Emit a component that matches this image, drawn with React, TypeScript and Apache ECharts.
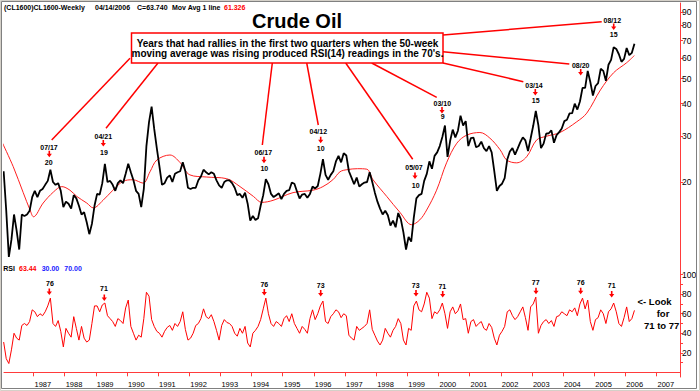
import React, { useEffect, useRef } from "react";
import * as echarts from "echarts";

// ---------- DATA ----------
const START_YEAR = 1986; // first monthly point: Jan 1986, last: Apr 2006

// Weekly crude oil (CL), one value per month
const prices = [
  // 1986
  22.0, 15.5, 10.3, 12.0, 15.0, 13.0, 11.0, 15.0, 14.8, 15.0, 15.5, 17.5,
  // 1987
  18.5, 17.5, 18.5, 18.8, 19.5, 20.2, 22.3, 20.0, 19.5, 19.8, 18.5, 16.0,
  // 1988
  16.8, 16.5, 15.8, 17.8, 17.3, 16.2, 15.0, 15.3, 14.0, 12.6, 13.8, 16.2,
  // 1989
  18.0, 17.9, 19.8, 23.5, 20.0, 20.2, 19.5, 18.5, 19.8, 20.3, 19.8, 21.5,
  // 1990
  23.5, 21.8, 20.3, 18.5, 18.0, 16.0, 18.8, 27.5, 34.0, 39.0, 32.0, 27.0,
  // 1991
  23.0, 19.5, 19.8, 20.8, 21.2, 20.0, 21.5, 21.8, 22.0, 23.8, 22.0, 19.0,
  // 1992
  18.8, 19.0, 19.0, 20.3, 21.0, 22.3, 21.8, 21.4, 21.8, 21.5, 20.3, 19.4,
  // 1993
  19.0, 20.0, 20.3, 20.3, 19.8, 19.0, 17.8, 18.0, 17.4, 18.2, 16.5, 14.2,
  // 1994
  14.8, 14.3, 14.5, 16.2, 17.8, 20.5, 19.6, 18.0, 17.5, 17.8, 18.1, 17.2,
  // 1995
  18.0, 18.5, 18.6, 19.9, 19.7, 18.4, 17.3, 17.9, 18.0, 17.4, 18.0, 19.2,
  // 1996
  18.9, 19.3, 21.5, 24.5, 21.3, 20.4, 21.3, 22.0, 24.0, 25.2, 23.8, 25.8,
  // 1997
  25.3, 22.0, 20.8, 19.6, 20.8, 19.2, 19.6, 19.9, 20.0, 21.8, 20.0, 18.2,
  // 1998
  16.8, 15.8, 15.0, 15.5, 14.9, 13.6, 14.2, 13.4, 15.2, 14.4, 12.8, 11.0,
  // 1999
  12.3, 11.8, 14.6, 17.3, 17.8, 18.0, 20.2, 21.5, 24.0, 22.5, 25.2, 26.0,
  // 2000
  27.5, 29.8, 33.0, 25.0, 28.8, 31.8, 29.7, 31.5, 36.0, 33.0, 34.3, 27.5,
  // 2001
  29.5, 29.6, 27.2, 27.5, 28.6, 27.0, 26.3, 27.5, 26.0, 22.0, 18.5, 19.3,
  // 2002
  19.7, 20.7, 24.4, 26.2, 27.0, 25.5, 26.9, 28.4, 29.7, 28.9, 26.3, 29.4,
  // 2003
  32.9, 37.5, 33.0, 27.0, 28.1, 30.7, 30.8, 31.6, 28.3, 30.3, 31.1, 32.1,
  // 2004
  34.3, 34.7, 36.7, 36.8, 40.0, 38.0, 40.8, 46.0, 46.0, 53.5, 48.5, 43.0,
  // 2005
  46.8, 48.0, 54.5, 53.5, 49.0, 56.5, 59.0, 66.0, 65.0, 62.0, 58.0, 59.5,
  // 2006
  65.5, 61.5, 62.8, 68.0,
];

// RSI(14), one value per month
const rsi = [
  31, 14, 9, 23, 40, 35, 33, 48, 50, 48, 52, 64,
  62, 57, 60, 58, 62, 68, 76, 50, 47, 53, 42, 26,
  45, 40, 36, 57, 45, 33, 47, 35, 31, 33, 50, 68,
  68, 62, 69, 71, 58, 55, 52, 47, 55, 53, 50, 66,
  74, 47, 40, 33, 38, 36, 55, 82, 78, 54, 47, 42,
  40, 36, 42, 46, 48, 43, 50, 47, 52, 62, 44, 33,
  35, 40, 48, 50, 55, 65, 57, 55, 59, 52, 43, 33,
  48, 54, 51, 50, 47, 40, 37, 45, 40, 47, 30, 26,
  40, 43, 47, 54, 65, 76, 60, 50, 47, 52, 50, 47,
  55, 58, 52, 60, 50, 45, 40, 47, 44, 40, 55, 64,
  54, 60, 68, 73, 52, 50, 57, 60, 64, 62, 56, 60,
  58, 38, 35, 33, 47, 43, 45, 47, 50, 64, 44, 38,
  32, 28, 33, 45, 40, 36, 43, 47, 55, 50, 33, 28,
  45, 43, 68, 73, 64, 62, 70, 82, 76, 55, 62, 60,
  64, 71, 60, 45, 62, 67, 60, 63, 70, 54, 55, 40,
  52, 54, 47, 50, 52, 45, 43, 50, 46, 35, 28, 38,
  42, 47, 62, 64, 58, 54, 57, 62, 67, 56, 43, 67,
  70, 77, 40, 48, 52, 54, 50, 53, 47, 57, 58, 62,
  60, 58, 64, 62, 66, 58, 70, 76, 65, 74, 52, 43,
  54, 56, 64, 60, 50, 62, 65, 71, 62, 50, 47, 56,
  67, 52, 55, 63.44,
];

// 50-week moving average, read at these dates (decimal years)
const maDates = [
  1986.0, 1986.35, 1986.67, 1986.89, 1987.0, 1987.31, 1987.64, 1987.91, 1988.17, 1988.39,
  1988.71, 1988.92, 1989.23, 1989.55, 1989.87, 1990.19, 1990.52, 1990.74, 1990.96, 1991.38,
  1991.7, 1992.02, 1992.56, 1993.2, 1993.63, 1994.06, 1994.33, 1994.69, 1995.33, 1995.97,
  1996.29, 1996.61, 1996.84, 1997.06, 1997.4, 1997.7, 1997.9, 1998.34, 1998.76, 1999.14,
  1999.4, 1999.62, 1999.94, 2000.26, 2000.59, 2000.91, 2001.33, 2001.65, 2001.98, 2002.19,
  2002.51, 2002.83, 2003.15, 2003.47, 2003.9, 2004.44, 2004.76, 2005.2, 2005.62, 2006.04,
  2006.29,
];
const maValues = [
  28.3, 22.9, 18.2, 15.6, 14.7, 16.6, 18.3, 19.2, 18.6, 17.6,
  16.6, 15.9, 17.0, 18.6, 20.1, 20.4, 19.8, 21.9, 24.3, 25.4,
  23.8, 21.3, 20.9, 20.6, 19.2, 17.6, 16.7, 17.0, 18.2, 18.6,
  19.2, 20.4, 21.9, 22.3, 22.5, 22.4, 20.4, 17.6, 15.3, 13.7,
  14.3, 15.6, 18.6, 23.7, 28.2, 30.3, 31.0, 29.5, 26.6, 24.3,
  23.7, 25.0, 29.0, 30.0, 31.0, 34.1, 36.8, 45.2, 52.6, 57.5,
  61.3,
];

const priceTicks = [20, 30, 40, 50, 60, 70, 80, 90];
const rsiTickLabels = [20, 40, 60, 80, 100];
const rsiTicks = [10, 20, 30, 40, 50, 60, 70, 80, 90, 100];
const rsiBands = [30, 70];
const yearTicks = [
  1987, 1988, 1989, 1990, 1991, 1992, 1993, 1994, 1995, 1996, 1997,
  1998, 1999, 2000, 2001, 2002, 2003, 2004, 2005, 2006, 2007,
];

const priceNoteDates = ["07/17", "04/21", "06/17", "04/12", "05/07", "03/10", "03/14", "08/20", "08/12"];
const priceNoteNums = ["20", "19", "10", "10", "10", "9", "15", "", "15"];
const rsiNoteValues = ["76", "71", "76", "73", "73", "71", "77", "76", "71"];

const headerParts = ["(CL1600)CL1600-Weekly", "04/14/2006", "C=63.740", "Mov Avg 1 line", "61.326"];
const rsiHeaderParts = ["RSI", "63.44", "30.00", "70.00"];
const titleText = "Crude Oil";
const noteLines = [
  "Years that had rallies in the first two quarters when the 50-week",
  "moving average was rising produced RSI(14) readings in the 70's.",
];
const lookLines = ["<- Look", "for", "71 to 77"];

// ---------- LAYOUT ----------
const FONT = "Liberation Sans, Arial, sans-serif";
const RED = "#ff0000";
const AXIS_RED = "#ff3b3b";
const X_MIN = 1986.053;
const X_MAX = 2007.754;
const LOG_MIN = 0.99334;
const LOG_MAX = 1.98949;

const priceNoteLayout = [
  { lx: 49, ly: 147.3, ax: 49.3, ay: 154, nx: 48.7, ny: 162.3, line: [130, 58.3, 51.7, 140] },
  { lx: 103.3, ly: 136, ax: 103.3, ay: 143.3, nx: 104, ny: 152.7, line: [158, 63, 106, 128.3] },
  { lx: 263.3, ly: 152.3, ax: 264, ay: 160, nx: 264.3, ny: 168.3, line: [272.3, 63, 262.3, 145] },
  { lx: 318.3, ly: 131.7, ax: 320.7, ay: 140, nx: 320.7, ny: 148.3, line: [306.7, 63, 318.3, 125] },
  { lx: 414, ly: 167.3, ax: 415, ay: 175.7, nx: 415.7, ny: 185.7, line: [345.7, 63, 412.7, 159.3] },
  { lx: 442.3, ly: 103.7, ax: 442, ay: 110.3, nx: 442.7, ny: 116.7, line: [371.7, 63, 436.7, 97.3] },
  { lx: 534, ly: 85.7, ax: 535.3, ay: 92.3, nx: 535.7, ny: 100.7, line: [443, 63, 523.3, 81.7] },
  { lx: 580.7, ly: 65.7, ax: 580.7, ay: 72.3, nx: 580.7, ny: 80, line: [443, 51.7, 569.3, 64] },
  { lx: 612.3, ly: 20.7, ax: 613.7, ay: 26.7, nx: 613.7, ny: 34.7, line: [443, 35, 601.7, 21.7] },
];
const rsiNoteLayout = [
  { x: 50, y: 283.3, ax: 49.3, ay: 291.7 },
  { x: 104, y: 288.3, ax: 104.3, ay: 297.7 },
  { x: 264.3, y: 284, ax: 264.3, ay: 292.3 },
  { x: 320.7, y: 285.7, ax: 320.7, ay: 293.3 },
  { x: 415.7, y: 285.7, ax: 416, ay: 293.3 },
  { x: 442.3, y: 286.7, ax: 442.7, ay: 294.3 },
  { x: 535.7, y: 282.7, ax: 536, ay: 291 },
  { x: 580.7, y: 282.7, ax: 580.7, ay: 291 },
  { x: 611.7, y: 285, ax: 611.7, ay: 294.3 },
];

function monthDate(i: number) {
  return START_YEAR + (i + 0.5) / 12;
}

function text(x: number, y: number, t: string, size: number, opts: any = {}) {
  const align = opts.align || "center";
  return {
    type: "text",
    x,
    y,
    z: 100,
    silent: true,
    style: {
      text: t,
      font: `${opts.weight || "bold"} ${size}px ${FONT}`,
      fill: opts.color || "#000",
      align,
      textAlign: align,
      verticalAlign: "middle",
      textVerticalAlign: "middle",
    },
  };
}

function arrow(cx: number, cy: number) {
  return {
    type: "polygon",
    z: 100,
    silent: true,
    shape: {
      points: [
        [cx - 0.8, cy - 3.2],
        [cx + 0.8, cy - 3.2],
        [cx + 0.8, cy - 0.3],
        [cx + 2.6, cy - 0.3],
        [cx, cy + 3.2],
        [cx - 2.6, cy - 0.3],
        [cx - 0.8, cy - 0.3],
      ],
    },
    style: { fill: RED },
  };
}

function buildGraphics() {
  const g: any[] = [];
  // outer frame
  g.push({
    type: "rect",
    z: 99,
    silent: true,
    shape: { x: 1.5, y: 1.5, width: 695, height: 387 },
    style: { fill: "none", stroke: "#808080", lineWidth: 1 },
  });
  g.push({
    type: "rect",
    z: 99,
    silent: true,
    shape: { x: 0.5, y: 0.5, width: 699, height: 390 },
    style: { fill: "none", stroke: "#d4d0c8", lineWidth: 1 },
  });
  // header
  const headerX = [4, 95, 137, 172, 224];
  headerParts.forEach((t, i) =>
    g.push(text(headerX[i], 7.5, t, 7, { align: "left", color: i === 4 ? RED : "#000" }))
  );
  // title
  g.push(text(252, 21, titleText, 20, { align: "left" }));
  // connector lines
  priceNoteLayout.forEach((l) =>
    g.push({
      type: "line",
      z: 100,
      silent: true,
      shape: { x1: l.line[0], y1: l.line[1], x2: l.line[2], y2: l.line[3] },
      style: { stroke: RED, lineWidth: 1.5 },
    })
  );
  // note box
  g.push({
    type: "rect",
    z: 101,
    silent: true,
    shape: { x: 131.5, y: 33, width: 311.5, height: 30 },
    style: { fill: "#fff", stroke: RED, lineWidth: 1.5 },
  });
  const t1 = text(287.5, 43.3, noteLines[0], 10);
  const t2 = text(287.5, 53.6, noteLines[1], 10);
  (t1 as any).z = 102;
  (t2 as any).z = 102;
  g.push(t1, t2);
  // price annotations
  priceNoteDates.forEach((d, i) => {
    const l = priceNoteLayout[i];
    g.push(text(l.lx, l.ly, d, 7));
    g.push(arrow(l.ax, l.ay));
    if (priceNoteNums[i]) g.push(text(l.nx, l.ny, priceNoteNums[i], 7));
  });
  // RSI annotations
  rsiNoteValues.forEach((v, i) => {
    const l = rsiNoteLayout[i];
    g.push(text(l.x, l.y, v, 7));
    g.push(arrow(l.ax, l.ay));
  });
  // RSI header
  const rsiX = [3.3, 19, 41.7, 64.3];
  const rsiColors = ["#000", RED, "#2020ff", "#2020ff"];
  rsiHeaderParts.forEach((t, i) =>
    g.push(text(rsiX[i], 268, t, 7, { align: "left", color: rsiColors[i] }))
  );
  // look text
  g.push(text(637.5, 301, lookLines[0], 9.5, { align: "left" }));
  g.push(text(663, 313.3, lookLines[1], 9.5));
  g.push(text(644, 325, lookLines[2], 9.5, { align: "left" }));
  return g;
}

function buildOption() {
  const priceData = prices.map((p, i) => [monthDate(i), Math.log10(p)]);
  const maData = maDates.map((d, i) => [d, Math.log10(maValues[i])]);
  const rsiData = rsi.map((r, i) => [monthDate(i), r]);
  const firstDate = monthDate(0);
  const lastDate = monthDate(rsi.length - 1);

  return {
    animation: false,
    backgroundColor: "#fff",
    textStyle: { fontFamily: FONT },
    grid: [
      { left: 4, right: 20, top: 3, height: 259 },
      { left: 4, right: 20, top: 262, height: 115 },
    ],
    xAxis: [
      {
        type: "value",
        gridIndex: 0,
        min: X_MIN,
        max: X_MAX,
        show: false,
      },
      {
        type: "value",
        gridIndex: 1,
        min: X_MIN,
        max: X_MAX,
        axisLine: { show: true, lineStyle: { color: AXIS_RED, width: 1 } },
        axisTick: {
          show: true,
          customValues: yearTicks,
          length: 4,
          lineStyle: { color: AXIS_RED },
        },
        axisLabel: {
          show: true,
          customValues: yearTicks,
          formatter: (v: number) => String(Math.round(v)),
          align: "left",
          margin: 3,
          fontSize: 7.5,
          color: "#000",
          fontFamily: FONT,
          padding: [0, 0, 0, 1],
        },
        splitLine: { show: false },
      },
    ],
    yAxis: [
      {
        type: "value",
        gridIndex: 0,
        position: "right",
        min: LOG_MIN,
        max: LOG_MAX,
        axisLine: { show: true, lineStyle: { color: AXIS_RED, width: 1 } },
        axisTick: {
          show: true,
          customValues: priceTicks.map((v) => Math.log10(v)),
          length: 3,
          lineStyle: { color: AXIS_RED },
        },
        axisLabel: {
          show: true,
          customValues: priceTicks.map((v) => Math.log10(v)),
          formatter: (v: number) => String(Math.round(Math.pow(10, v))),
          margin: 2,
          fontSize: 8.5,
          color: "#000",
          fontFamily: FONT,
        },
        splitLine: { show: false },
      },
      {
        type: "value",
        gridIndex: 1,
        position: "right",
        min: -4.8,
        max: 113,
        axisLine: { show: true, lineStyle: { color: AXIS_RED, width: 1 } },
        axisTick: {
          show: true,
          customValues: rsiTicks,
          length: 3,
          lineStyle: { color: AXIS_RED },
        },
        axisLabel: {
          show: true,
          customValues: rsiTickLabels,
          margin: 2,
          fontSize: 8.5,
          color: "#000",
          fontFamily: FONT,
        },
        splitLine: { show: false },
      },
    ],
    series: [
      {
        name: "MA",
        type: "line",
        xAxisIndex: 0,
        yAxisIndex: 0,
        data: maData,
        showSymbol: false,
        smooth: 0.35,
        lineStyle: { color: "#ff2020", width: 1 },
        z: 3,
      },
      {
        name: "Price",
        type: "line",
        xAxisIndex: 0,
        yAxisIndex: 0,
        data: priceData,
        showSymbol: false,
        lineStyle: { color: "#000", width: 1.8 },
        z: 4,
      },
      {
        name: "RSI",
        type: "line",
        xAxisIndex: 1,
        yAxisIndex: 1,
        data: rsiData,
        showSymbol: false,
        lineStyle: { color: "#ff0000", width: 1 },
        z: 4,
        markLine: {
          silent: true,
          symbol: ["none", "none"],
          label: { show: false },
          lineStyle: { color: "#3b3bff", width: 1.3, type: "solid" },
          data: rsiBands.map((b) => [
            { coord: [firstDate, b] },
            { coord: [lastDate, b] },
          ]),
        },
      },
    ],
    graphic: buildGraphics(),
  };
}

export default function App() {
  const ref = useRef<HTMLDivElement>(null);
  useEffect(() => {
    if (!ref.current) return;
    const chart = echarts.init(ref.current, null, { renderer: "svg", width: 700, height: 391 });
    chart.setOption(buildOption() as any);
    return () => chart.dispose();
  }, []);
  return (
    <div
      ref={ref}
      style={{ position: "fixed", left: 0, top: 0, width: 700, height: 391, background: "#fff" }}
    />
  );
}
